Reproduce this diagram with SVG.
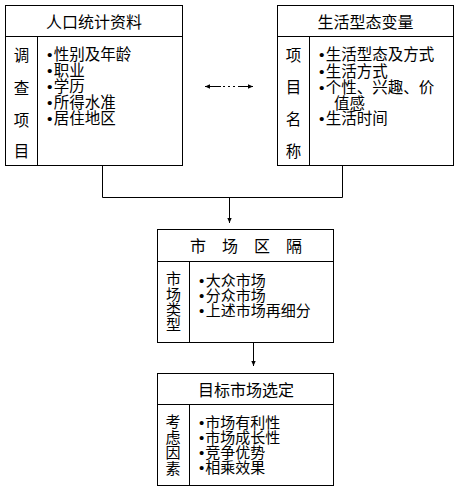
<svg xmlns="http://www.w3.org/2000/svg" width="461" height="491" viewBox="0 0 461 491">
<style>
text{font-family:"Liberation Sans","Noto Sans CJK SC",sans-serif;font-size:15.5px;fill:#000}
.h{text-anchor:middle;font-size:16px}
.v{text-anchor:middle}
.s{font-size:15px}
.box{fill:#fff;stroke:#000;stroke-width:1}
.ln{stroke:#000;stroke-width:1;fill:none}
</style>
<defs>
<marker id="ah" markerUnits="userSpaceOnUse" markerWidth="6" markerHeight="6" refX="5" refY="3" orient="auto-start-reverse">
<path d="M0,0.8 L5,3 L0,5.2 Z" fill="#000"/>
</marker>
</defs>
<rect width="461" height="491" fill="#fff"/>
<g id="connectors">
<path class="ln" d="M102.5,165.5 V197.5 H342.5 V165.5"/>
<path class="ln" d="M229.5,197.5 V223" marker-end="url(#ah)"/>
<path class="ln" d="M253.5,342.5 V366" marker-end="url(#ah)"/>
<path class="ln" d="M221,86.5 H205" marker-end="url(#ah)"/>
<path class="ln" d="M223,86.5 H236" stroke-dasharray="2 3"/>
<path class="ln" d="M238,86.5 H253" marker-end="url(#ah)"/>
</g>
<g id="demographics">
<rect class="box" x="5.5" y="5.5" width="177" height="160"/>
<path class="ln" d="M5.5,36.5 H182.5 M37.5,36.5 V165.5"/>
<text class="h" x="94" y="28">人口统计资料</text>
<text class="v" x="21.5" y="61">调</text>
<text class="v" x="21.5" y="94">查</text>
<text class="v" x="21.5" y="126">项</text>
<text class="v" x="21.5" y="157">目</text>
<text x="47" y="60">•<tspan dx="1.2">性别及年龄</tspan></text>
<text x="47" y="76">•<tspan dx="1.2">职业</tspan></text>
<text x="47" y="92">•<tspan dx="1.2">学历</tspan></text>
<text x="47" y="107.5">•<tspan dx="1.2">所得水准</tspan></text>
<text x="47" y="123.5">•<tspan dx="1.2">居住地区</tspan></text>
</g>
<g id="lifestyle">
<rect class="box" x="277.5" y="5.5" width="176" height="160"/>
<path class="ln" d="M277.5,36.5 H453.5 M309.5,36.5 V165.5"/>
<text class="h" x="365.5" y="28">生活型态变量</text>
<text class="v" x="293.5" y="61">项</text>
<text class="v" x="293.5" y="93">目</text>
<text class="v" x="293.5" y="125">名</text>
<text class="v" x="293.5" y="157">称</text>
<text x="319" y="60">•<tspan dx="1.2">生活型态及方式</tspan></text>
<text x="319" y="76.5">•<tspan dx="1.2">生活方式</tspan></text>
<text x="319" y="93">•<tspan dx="1.2">个性、兴趣、价</tspan></text>
<text x="334" y="108.5">值感</text>
<text x="319" y="124">•<tspan dx="1.2">生活时间</tspan></text>
</g>
<g id="segmentation">
<rect class="box" x="157.5" y="229.5" width="176" height="113"/>
<path class="ln" d="M157.5,261.5 H333.5 M189.5,261.5 V342.5"/>
<text class="h" x="246" y="252">市　场　区　隔</text>
<text class="v s" x="173.5" y="284">市</text>
<text class="v s" x="173.5" y="299.5">场</text>
<text class="v s" x="173.5" y="314.5">类</text>
<text class="v s" x="173.5" y="330">型</text>
<text class="s" x="199" y="286">•<tspan dx="1.5">大众市场</tspan></text>
<text class="s" x="199" y="301">•<tspan dx="1.5">分众市场</tspan></text>
<text class="s" x="199" y="316">•<tspan dx="1.5">上述市场再细分</tspan></text>
</g>
<g id="targeting">
<rect class="box" x="157.5" y="373.5" width="176" height="112"/>
<path class="ln" d="M157.5,404.5 H333.5 M189.5,404.5 V485.5"/>
<text class="h" x="246" y="396">目标市场选定</text>
<text class="v s" x="173" y="427">考</text>
<text class="v s" x="173" y="442.5">虑</text>
<text class="v s" x="173" y="458">因</text>
<text class="v s" x="173" y="473.5">素</text>
<text class="s" x="199" y="428">•<tspan dx="1">市场有利性</tspan></text>
<text class="s" x="199" y="443">•<tspan dx="1">市场成长性</tspan></text>
<text class="s" x="199" y="458">•<tspan dx="1">竞争优势</tspan></text>
<text class="s" x="199" y="473">•<tspan dx="1">相乘效果</tspan></text>
</g>
</svg>
